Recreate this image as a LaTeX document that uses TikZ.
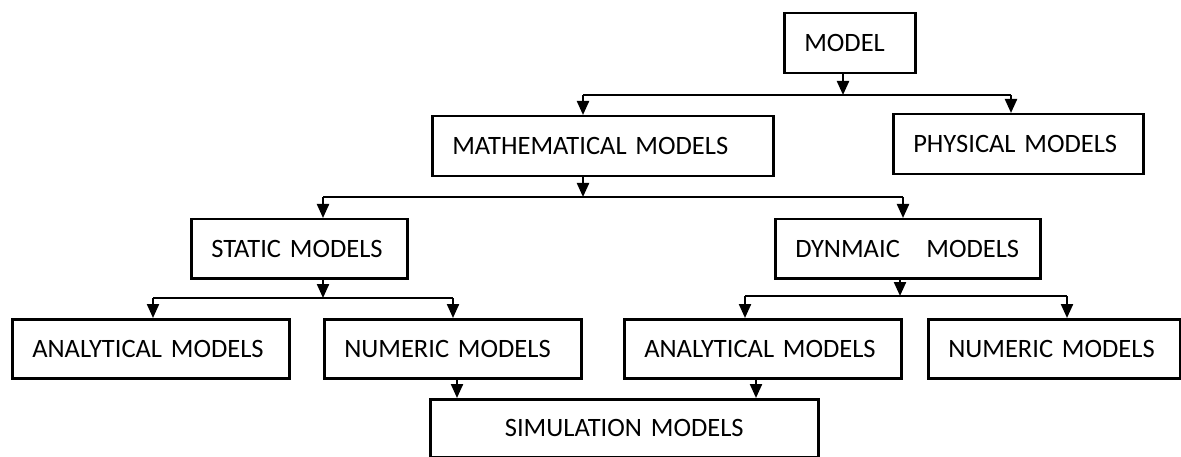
\documentclass[tikz,border=0pt]{standalone}
\usepackage{fontspec}
\setmainfont[WordSpace=0.8]{Carlito}
\usetikzlibrary{arrows.meta}
\begin{document}
\begin{tikzpicture}[x=1pt,y=-1pt,
  box/.style={draw, line width=2.5pt, anchor=north west, inner xsep=20pt,
    inner ysep=0pt, align=left, font=\fontsize{26.5}{30}\selectfont},
  link/.style={line width=2.2pt},
  arr/.style={line width=2.2pt, -{Triangle[length=14pt,width=12pt]}}]
\useasboundingbox (0,0) rectangle (1181,457);

% boxes
\node[box, text width=91pt,  minimum height=60pt] (model)  at (783,12)  {MODEL};
\node[box, text width=301pt, minimum height=60pt] (math)   at (431,115) {MATHEMATICAL MODELS};
\node[box, text width=210pt, minimum height=60pt] (phys)   at (892,113) {PHYSICAL MODELS};
\node[box, text width=176pt, minimum height=59pt] (static) at (190,218) {STATIC MODELS};
\node[box, text width=225pt, minimum height=59pt] (dyn)    at (774,218) {DYNMAIC\ \ \ MODELS};
\node[box, text width=237pt, minimum height=59pt] (ana1)   at (11,318)  {ANALYTICAL MODELS};
\node[box, text width=217pt, minimum height=59pt] (num1)   at (323,318) {NUMERIC MODELS};
\node[box, text width=237pt, minimum height=59pt] (ana2)   at (623,318) {ANALYTICAL MODELS};
\node[box, text width=212pt, minimum height=59pt] (num2)   at (927,318) {NUMERIC MODELS};
\node[box, text width=348pt, minimum height=58pt, align=center] (sim) at (429,398) {SIMULATION MODELS};

% junction points on the bus lines
\coordinate (b1)  at (843,95);
\coordinate (b1l) at (583,95);
\coordinate (b1r) at (1011,95);
\coordinate (b2)  at (583,197);
\coordinate (b2l) at (323,197);
\coordinate (b2r) at (903,197);
\coordinate (b3)  at (323,298);
\coordinate (b3l) at (153,298);
\coordinate (b3r) at (453,298);
\coordinate (b4)  at (900,296);
\coordinate (b4l) at (745,296);
\coordinate (b4r) at (1067,296);
\coordinate (s1)  at (457,380);
\coordinate (s2)  at (756,380);

% MODEL -> MATHEMATICAL / PHYSICAL
\draw[arr]  (model.south -| b1) -- (b1);
\draw[link] (b1l) -- (b1r);
\draw[arr]  (b1l) -- (math.north -| b1l);
\draw[arr]  (b1r) -- (phys.north -| b1r);

% MATHEMATICAL -> STATIC / DYNMAIC
\draw[arr]  (math.south -| b2) -- (b2);
\draw[link] (b2l) -- (b2r);
\draw[arr]  (b2l) -- (static.north -| b2l);
\draw[arr]  (b2r) -- (dyn.north -| b2r);

% STATIC -> ANALYTICAL / NUMERIC
\draw[arr]  (static.south -| b3) -- (b3);
\draw[link] (b3l) -- (b3r);
\draw[arr]  (b3l) -- (ana1.north -| b3l);
\draw[arr]  (b3r) -- (num1.north -| b3r);

% DYNMAIC -> ANALYTICAL / NUMERIC
\draw[arr]  (dyn.south -| b4) -- (b4);
\draw[link] (b4l) -- (b4r);
\draw[arr]  (b4l) -- (ana2.north -| b4l);
\draw[arr]  (b4r) -- (num2.north -| b4r);

% into SIMULATION
\draw[arr]  (num1.south -| s1) -- (sim.north -| s1);
\draw[arr]  (ana2.south -| s2) -- (sim.north -| s2);
\end{tikzpicture}
\end{document}
